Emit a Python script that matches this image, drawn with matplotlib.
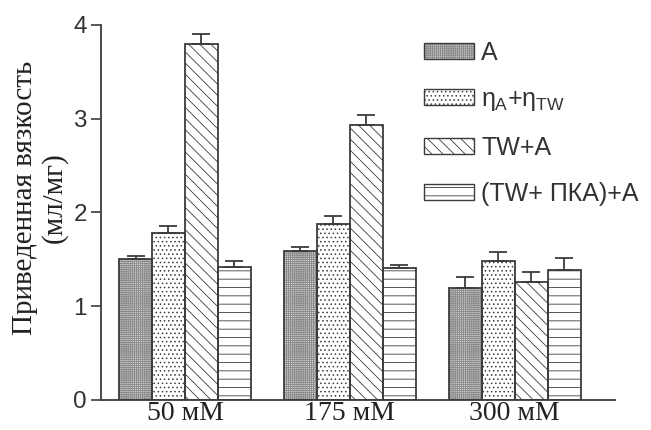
import numpy as np
import matplotlib
matplotlib.use("Agg")
import matplotlib.pyplot as plt
from matplotlib.patches import Patch

plt.rcParams["hatch.linewidth"] = 0.6
plt.rcParams["mathtext.fontset"] = "custom"
plt.rcParams["mathtext.rm"] = "Liberation Sans"
plt.rcParams["mathtext.it"] = "Liberation Sans"

# ---------- Data ----------
groups = ["50 мМ", "175 мМ", "300 мМ"]
series = ["А", r"$\eta_\mathrm{A}$+$\eta_\mathrm{TW}$", "TW+A", "(TW+ ПКА)+А"]
vals_A = [1.50, 1.59, 1.19]
vals_eta = [1.78, 1.88, 1.48]
vals_tw = [3.80, 2.93, 1.26]
vals_pka = [1.42, 1.41, 1.39]
err_A = [0.03, 0.04, 0.12]
err_eta = [0.07, 0.08, 0.10]
err_tw = [0.10, 0.11, 0.10]
err_pka = [0.06, 0.03, 0.12]

values = [vals_A, vals_eta, vals_tw, vals_pka]
errors = [err_A, err_eta, err_tw, err_pka]
hatches = ["++++++++", "....", "\\\\\\", "--"]
faces = ["#cfcfcf", "white", "white", "white"]
hatch_cols = ["#8a8a8a", "#3c3c3c", "#3c3c3c", "#3c3c3c"]
edge = "#3c3c3c"

fig = plt.figure(figsize=(6.51, 4.30), dpi=100)
ax = fig.add_axes([0.155, 0.07, 0.79, 0.872])

x = np.arange(len(groups))
w = 0.2
for i, (v, e) in enumerate(zip(values, errors)):
    pos = x + (i - 1.5) * w
    # fill + hatch, then outline on top
    ax.bar(pos, v, width=w, color=faces[i], edgecolor=hatch_cols[i], hatch=hatches[i],
           linewidth=0, zorder=2)
    ax.bar(pos, v, width=w, fill=False, edgecolor=edge, linewidth=1.3, zorder=2.5)
    ax.errorbar(pos, v, yerr=[np.zeros(len(v)), e], fmt="none", ecolor=edge,
                elinewidth=1.3, capsize=6.5, capthick=1.3, zorder=3)

ax.set_xlim(-0.51, 2.61)
ax.set_ylim(0, 4)
ax.set_yticks([0, 1, 2, 3, 4])
ax.set_yticklabels(["0", "1", "2", "3", "4"], fontfamily="Liberation Sans", fontsize=17.5,
                   color="#333333")
ax.tick_params(axis="y", length=7, width=1.2, color=edge, pad=3)
ax.set_xticks(x)
ax.set_xticklabels(groups, fontfamily="Liberation Serif", fontsize=20, color="#222222")
ax.tick_params(axis="x", length=0, pad=1)
for s in ["top", "right"]:
    ax.spines[s].set_visible(False)
for s in ["left", "bottom"]:
    ax.spines[s].set_color(edge)
    ax.spines[s].set_linewidth(1.3)

ax.set_ylabel("Приведенная вязкость\n(мл/мг)", fontfamily="Liberation Serif", fontsize=21,
              color="#222222", linespacing=1.15)
ax.yaxis.set_label_coords(-0.064, 0.54)

handles = []
for i in range(4):
    fill = Patch(facecolor=faces[i], edgecolor=hatch_cols[i], hatch=hatches[i], linewidth=0)
    outline = Patch(fill=False, edgecolor=edge, linewidth=1.0)
    handles.append((fill, outline))
leg = ax.legend(handles, series, loc="upper left", bbox_to_anchor=(0.608, 0.985), frameon=False,
                prop={"family": "Liberation Sans", "size": 18}, handlelength=2.0,
                handleheight=0.6, labelspacing=0.9, handletextpad=0.3, borderaxespad=0)
for t in leg.get_texts():
    t.set_color("#333333")

fig.savefig("out.png", dpi=100)
